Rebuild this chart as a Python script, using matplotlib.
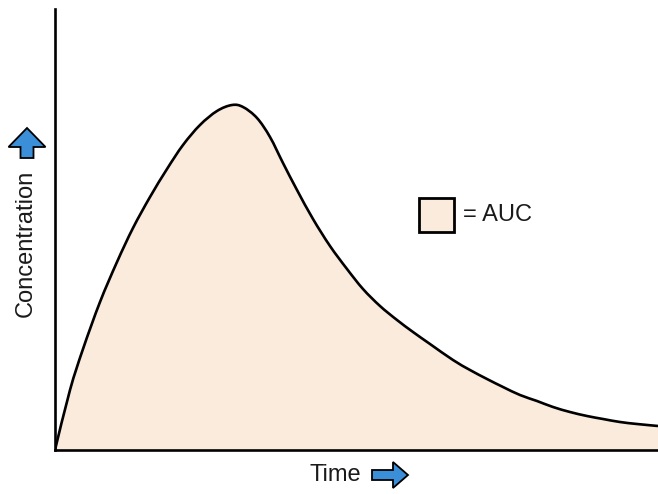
import matplotlib
matplotlib.use('Agg')
import matplotlib.pyplot as plt
import matplotlib.patches as mpatches
from matplotlib.path import Path

plt.rcParams['font.family'] = ['Liberation Sans', 'DejaVu Sans']

# curve (arbitrary units: time along x, concentration along y)
time = [0, 15, 28, 45, 62, 78, 95, 112, 128, 145, 162, 177, 188, 202, 215, 228,
        242, 258, 275, 292, 308, 325, 342, 358, 375, 398, 415, 432, 448,
        465, 482, 498, 515, 532, 548, 565, 582, 603]
conc = [0, 60, 101, 148, 188, 222, 253, 281, 305, 325, 339, 345, 343, 332, 313, 287,
        260, 231, 204, 181, 161, 144, 130, 118, 106, 90, 80, 71, 63,
        55, 49, 43, 38, 34, 31, 28, 26, 24]

x_label = "Time"
y_label = "Concentration"
legend_label = "= AUC"

FILL = "#FBEBDD"
BLUE = "#3A8FD8"
W, H = 658, 494


def smooth_path(xs, ys):
    # catmull-rom through the read points, as cubic bezier segments
    pts = list(zip(xs, ys))
    verts = [pts[0]]
    codes = [Path.MOVETO]
    n = len(pts)
    for i in range(n - 1):
        p0 = pts[max(i - 1, 0)]
        p1 = pts[i]
        p2 = pts[i + 1]
        p3 = pts[min(i + 2, n - 1)]
        c1 = (p1[0] + (p2[0] - p0[0]) / 6, p1[1] + (p2[1] - p0[1]) / 6)
        c2 = (p2[0] - (p3[0] - p1[0]) / 6, p2[1] - (p3[1] - p1[1]) / 6)
        verts += [c1, c2, p2]
        codes += [Path.CURVE4] * 3
    return verts, codes


fig = plt.figure(figsize=(W / 100, H / 100), dpi=100)
ax = fig.add_axes([55 / W, 44 / H, 603 / W, 441 / H])

verts, codes = smooth_path(time, conc)
area = Path(verts + [(time[-1], 0), (time[0], 0), (0, 0)],
            codes + [Path.LINETO, Path.LINETO, Path.CLOSEPOLY])
ax.add_patch(mpatches.PathPatch(area, fc=FILL, lw=0))
ax.add_patch(mpatches.PathPatch(Path(verts, codes), fc="none", ec="black", lw=1.9))

ax.set_xlim(0, 603)
ax.set_ylim(0, 441)
ax.set_xticks([])
ax.set_yticks([])
for side in ["top", "right"]:
    ax.spines[side].set_visible(False)
for side in ["left", "bottom"]:
    ax.spines[side].set_linewidth(1.9)

# axis labels with arrows (figure pixel coords -> inches)
fig.text(335 / W, 1 - 475 / H, x_label, ha="center", va="center", fontsize=17, color="#1a1a1a")
fig.text(26 / W, 1 - 243 / H, y_label, ha="center", va="center", fontsize=17,
         rotation=90, color="#1a1a1a")

tr = fig.dpi_scale_trans
up = mpatches.FancyArrow(0.27, (H - 158) / 100, 0, 0.30, width=0.13, head_width=0.37,
                         head_length=0.19, length_includes_head=True,
                         fc=BLUE, ec="black", lw=1.3, transform=tr)
right = mpatches.FancyArrow(3.72, (H - 475) / 100, 0.36, 0, width=0.10, head_width=0.26,
                            head_length=0.15, length_includes_head=True,
                            fc=BLUE, ec="black", lw=1.3, transform=tr)
fig.patches.extend([up, right])

# legend swatch
box = mpatches.Rectangle((4.19, (H - 232) / 100), 0.35, 0.34, fc=FILL, ec="black",
                         lw=2.0, transform=tr)
fig.patches.append(box)
fig.text(463 / W, 1 - 215 / H, legend_label, ha="left", va="center", fontsize=17,
         color="#1a1a1a")

fig.savefig("out.png", dpi=100)
